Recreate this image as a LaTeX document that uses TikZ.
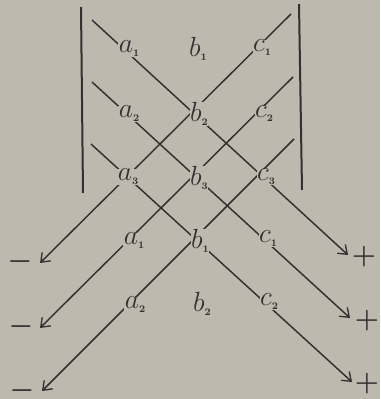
\documentclass[tikz,border=0pt]{standalone}
\usetikzlibrary{arrows.meta}
\definecolor{bg}{RGB}{189,185,174}
\definecolor{ink}{RGB}{50,48,48}
\newcommand{\detlab}[2]{$#1$\raisebox{-3pt}{\fontsize{7.5}{8}\selectfont\bfseries #2}}
\begin{document}
\begin{tikzpicture}[x=0.75pt,y=-0.75pt,
  ln/.style={draw=ink,line width=1.1pt},
  arr/.style={ln,-{Straight Barb[length=6pt,width=9pt,line width=1pt]}},
  bar/.style={draw=ink,line width=1.5pt},
  lab/.style={fill=bg,inner sep=0.3pt,text=ink,font=\fontsize{20}{24}\selectfont},
  sgn/.style={inner sep=0pt,text=ink,font=\fontsize{21}{25}\selectfont\boldmath}]
\fill[bg] (0,0) rectangle (380,399);
\useasboundingbox (0,0) rectangle (380,399);
% bars
\coordinate (L1) at (81,7); \coordinate (L2) at (83,193);
\coordinate (R1) at (299,4); \coordinate (R2) at (302,190);
\draw[bar] (L1) -- (L2);
\draw[bar] (R1) -- (R2);
% line endpoints
\coordinate (p1s) at (92,20);  \coordinate (p1e) at (348,255);
\coordinate (p2s) at (92,82);  \coordinate (p2e) at (350,318);
\coordinate (p3s) at (91,144); \coordinate (p3e) at (352,382);
\coordinate (m1s) at (291,14); \coordinate (m1e) at (40,263);
\coordinate (m2s) at (293,77); \coordinate (m2e) at (40,328);
\coordinate (m3s) at (294,139);\coordinate (m3e) at (42,391);
\draw[arr] (p1s) -- (p1e);
\draw[arr] (p2s) -- (p2e);
\draw[arr] (p3s) -- (p3e);
\draw[arr] (m1s) -- (m1e);
\draw[arr] (m2s) -- (m2e);
\draw[arr] (m3s) -- (m3e);
% labels
\node[lab] (a1) at (129,49) {\detlab{a}{1}};
\node[lab] (b1) at (198,49) {\detlab{b}{1}};
\node[lab] (c1) at (262,48) {\detlab{c}{1}};
\node[lab] (a2) at (129,114) {\detlab{a}{2}};
\node[lab] (b2) at (199,114) {\detlab{b}{2}};
\node[lab] (c2) at (264,114) {\detlab{c}{2}};
\node[lab] (a3) at (128,177) {\detlab{a}{3}};
\node[lab] (b3) at (199,178) {\detlab{b}{3}};
\node[lab] (c3) at (266,177) {\detlab{c}{3}};
\node[lab] (a4) at (134,241) {\detlab{a}{1}};
\node[lab] (b4) at (200,241) {\detlab{b}{1}};
\node[lab] (c4) at (268,239) {\detlab{c}{1}};
\node[lab] (a5) at (135,305) {\detlab{a}{2}};
\node[lab] (b5) at (202,304) {\detlab{b}{2}};
\node[lab] (c5) at (269,302) {\detlab{c}{2}};
% signs
\node[sgn] (s1) at (364,257) {$+$};
\node[sgn] (s2) at (367,321) {$+$};
\node[sgn] (s3) at (367,384) {$+$};
\node[sgn] (n1) at (20,262) {$-$};
\node[sgn] (n2) at (21,327) {$-$};
\node[sgn] (n3) at (22,391) {$-$};
\end{tikzpicture}
\end{document}
